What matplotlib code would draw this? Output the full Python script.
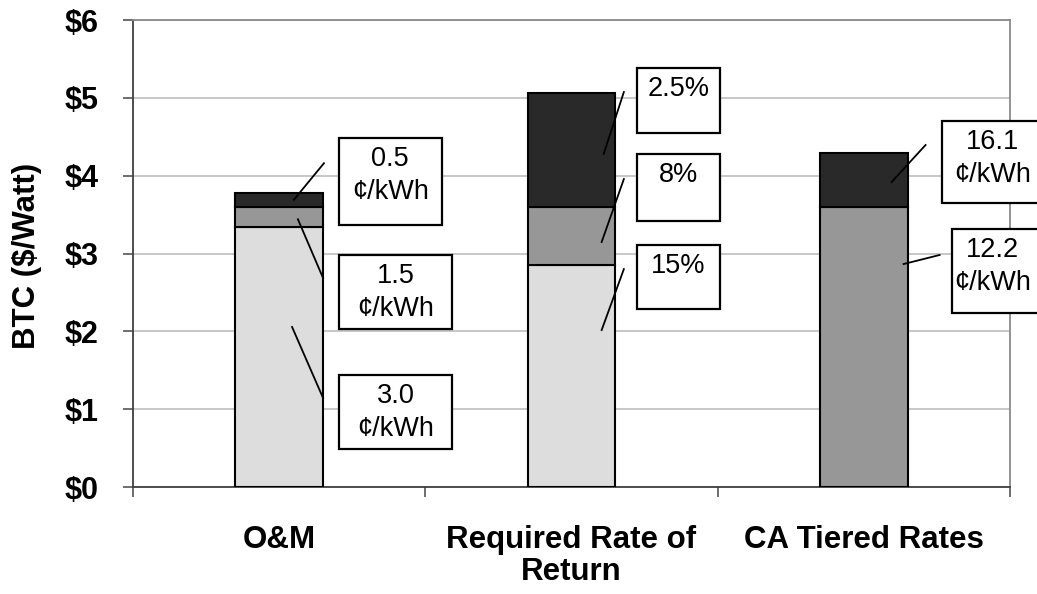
import numpy as np
import matplotlib.pyplot as plt
from matplotlib.patches import Rectangle

plt.rcParams['font.family'] = ['Liberation Sans', 'DejaVu Sans']

# data ($/Watt)
categories = ['O&M', 'Required Rate of\nReturn', 'CA Tiered Rates']
light = [3.34, 2.85, 0.0]
mid = [0.26, 0.75, 3.60]
dark = [0.18, 1.46, 0.69]
yticks = [0, 1, 2, 3, 4, 5, 6]
ytick_labels = ['$%d' % v for v in yticks]

# callout boxes: text, (x0, x1, ytop, ybottom), leader (x_in, y_in, x_out, y_out)
box_text = ['0.5\n¢/kWh', '1.5\n¢/kWh', '3.0\n¢/kWh',
            '2.5%', '8%', '15%',
            '16.1\n¢/kWh', '12.2\n¢/kWh']
box_pos = [(0.204, 0.556, 4.484, 3.366),
           (0.204, 0.591, 2.981, 2.030),
           (0.204, 0.591, 1.439, 0.488),
           (1.223, 1.507, 5.384, 4.548),
           (1.223, 1.507, 4.279, 3.418),
           (1.223, 1.507, 3.109, 2.287),
           (2.266, 2.640, 4.703, 3.649),
           (2.300, 2.640, 3.315, 2.236)]
leaders = [(0.050, 3.69, 0.153, 4.16),
           (0.064, 3.44, 0.150, 2.685),
           (0.044, 2.056, 0.150, 1.144),
           (1.110, 4.28, 1.179, 5.075),
           (1.103, 3.148, 1.179, 3.957),
           (1.103, 2.017, 1.179, 2.80),
           (2.095, 3.919, 2.211, 4.394),
           (2.136, 2.865, 2.259, 2.981)]

fig = plt.figure(figsize=(10.37, 5.94), dpi=100)
ax = fig.add_axes([0.1283, 0.1801, 0.8457, 0.7862])

x = np.arange(len(categories))
w = 0.30
bot2 = np.array(light) + np.array(mid)
ax.bar(x, light, w, color='#DDDDDD', edgecolor='black', linewidth=1.5, zorder=3)
ax.bar(x, mid, w, bottom=light, color='#979797', edgecolor='black', linewidth=1.5, zorder=3)
ax.bar(x, dark, w, bottom=bot2, color='#292929', edgecolor='black', linewidth=1.5, zorder=3)

ax.set_xlim(-0.5, 2.5)
ax.set_ylim(0, 6)
ax.set_yticks(yticks)
ax.set_yticklabels(ytick_labels, fontsize=22, fontweight='bold')
ax.yaxis.grid(True, color='#BEBEBE', linewidth=1.2, zorder=0)
ax.set_axisbelow(True)

ax.set_xticks(x)
ax.set_xticklabels(categories, fontsize=22.5, fontweight='bold', linespacing=1.1)
ax.set_xticks([-0.5, 0.5, 1.5, 2.5], minor=True)
ax.tick_params(axis='x', which='major', length=0, pad=27)
ax.tick_params(axis='x', which='minor', length=7, width=1.2, color='#555555', direction='out')
ax.tick_params(axis='y', length=7, width=1.2, color='#555555', pad=18)

for s in ['left', 'bottom']:
    ax.spines[s].set_color('#404040')
    ax.spines[s].set_linewidth(1.3)
for s in ['top', 'right']:
    ax.spines[s].set_color('#8A8A8A')
    ax.spines[s].set_linewidth(1.3)

fig.text(27 / 1037, 1 - 256 / 594, 'BTC ($/Watt)', rotation=90, ha='center', va='center',
         fontsize=22.5, fontweight='bold')

for t, (x0, x1, yt, yb), (lx0, ly0, lx1, ly1) in zip(box_text, box_pos, leaders):
    ax.plot([lx0, lx1], [ly0, ly1], color='black', linewidth=1.3, zorder=5, clip_on=False)
    ax.add_patch(Rectangle((x0, yb), x1 - x0, yt - yb, facecolor='white', edgecolor='black',
                           linewidth=1.6, zorder=6, clip_on=False))
    # boxes on the far right run off the figure edge, keep their text inside it
    tx = (x0 + x1) / 2 if x1 < 2.5 else 2.440
    ax.text(tx, yt - 0.1, t, ha='center', va='top', fontsize=19.5,
            linespacing=1.36, zorder=7, clip_on=False)

fig.savefig('out.png', dpi=100)
